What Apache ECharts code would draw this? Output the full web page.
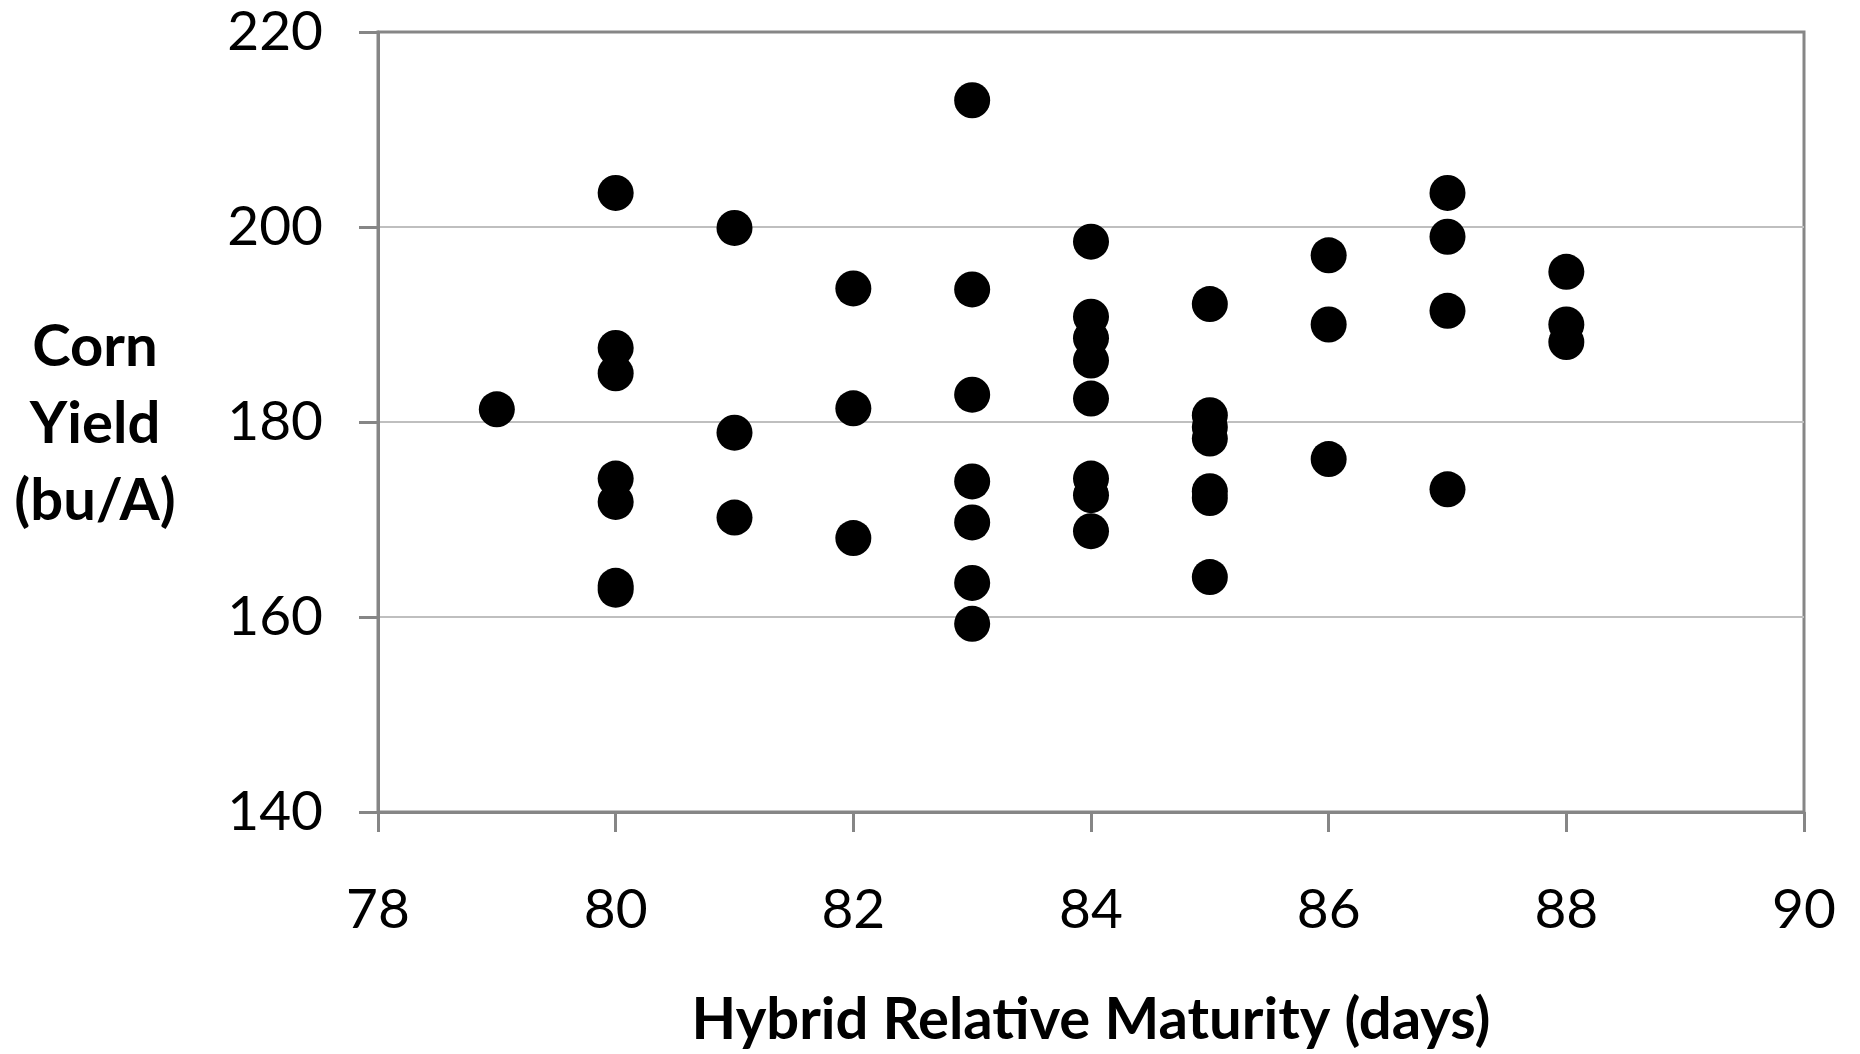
<!DOCTYPE html>
<html>
<head>
<meta charset="utf-8">
<script src="https://cdn.jsdelivr.net/npm/echarts@6/dist/echarts.min.js"></script>
<style>
html,body{margin:0;padding:0;background:#fff;}
#chart{width:1860px;height:1054px;}
</style>
</head>
<body>
<div id="chart"></div>
<script>
// Hybrid relative maturity (days) for each hybrid
const maturityDays = [
  79,
  80, 80, 80, 80, 80, 80, 80,
  81, 81, 81,
  82, 82, 82,
  83, 83, 83, 83, 83, 83, 83,
  84, 84, 84, 84, 84, 84, 84, 84,
  85, 85, 85, 85, 85, 85, 85,
  86, 86, 86,
  87, 87, 87, 87,
  88, 88, 88
];
// Corn yield (bu/A) for each hybrid
const cornYield = [
  181.3,
  203.5, 187.6, 185.0, 174.2, 171.8, 163.2, 162.8,
  199.9, 178.9, 170.2,
  193.7, 181.4, 168.1,
  213.0, 193.6, 182.8, 173.9, 169.7, 163.5, 159.3,
  198.5, 190.8, 188.6, 186.3, 182.4, 174.2, 172.5, 168.8,
  192.1, 180.7, 179.5, 178.3, 172.9, 172.2, 164.1,
  197.1, 190.0, 176.2,
  203.5, 199.0, 191.4, 173.1,
  195.4, 190.0, 188.2
];
const xTicks = [78, 80, 82, 84, 86, 88, 90];
const yTicks = [140, 160, 180, 200, 220];
const xTitle = 'Hybrid Relative Maturity (days)';
const yTitle = 'Corn\nYield\n(bu/A)';

const points = maturityDays.map((d, i) => [d, cornYield[i]]);
const FONT = 'Lato';
const AXIS = '#868686';

const chart = echarts.init(document.getElementById('chart'), null, {renderer: 'canvas'});
chart.setOption({
  backgroundColor: '#ffffff',
  animation: false,
  grid: {
    left: 378, right: 56, top: 32, bottom: 242,
    show: true, borderColor: AXIS, borderWidth: 3, backgroundColor: 'transparent'
  },
  xAxis: {
    type: 'value',
    min: xTicks[0], max: xTicks[xTicks.length - 1], interval: 2,
    name: xTitle, nameLocation: 'middle', nameGap: 179,
    nameTextStyle: {fontFamily: FONT, fontWeight: 'bold', fontSize: 58, color: '#000'},
    axisLine: {show: true, onZero: false, lineStyle: {color: AXIS, width: 3}},
    axisTick: {show: true, inside: false, length: 20, lineStyle: {color: AXIS, width: 3}},
    axisLabel: {fontFamily: FONT, fontSize: 55, color: '#000', margin: 71},
    splitLine: {show: false}
  },
  yAxis: {
    type: 'value',
    min: yTicks[0], max: yTicks[yTicks.length - 1], interval: 20,
    axisLine: {show: true, onZero: false, lineStyle: {color: AXIS, width: 3}},
    axisTick: {show: true, inside: false, length: 19, lineStyle: {color: AXIS, width: 3}},
    axisLabel: {fontFamily: FONT, fontSize: 55, color: '#000', margin: 55},
    splitLine: {show: true, lineStyle: {color: ['#868686', '#bfbfbf', '#bfbfbf', '#bfbfbf', '#868686'], width: 2}}
  },
  graphic: [{
    type: 'text',
    x: 95, y: 424,
    style: {
      text: yTitle,
      fill: '#000',
      font: 'bold 58px Lato',
      textAlign: 'center',
      textVerticalAlign: 'middle',
      lineHeight: 77
    }
  }],
  series: [{
    type: 'scatter',
    data: points,
    symbol: 'circle',
    symbolSize: 36,
    itemStyle: {color: '#000000', opacity: 1},
    clip: false
  }]
});
</script>
</body>
</html>
